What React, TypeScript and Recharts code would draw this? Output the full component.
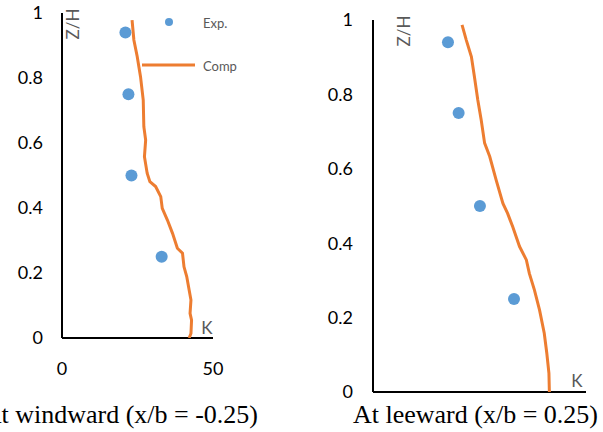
import { ScatterChart, Scatter, XAxis, YAxis } from 'recharts';

// windward (x/b = -0.25)
const windExpK = [21, 22, 23, 33];
const windExpZ = [0.94, 0.75, 0.5, 0.25];
const windCompK = [23.2, 23.8, 24.9, 26, 26.9, 27.1, 27.7, 27.3, 28.2, 29.1, 31, 32.7, 33.2, 34.9, 36.6, 38.2, 39.9, 40.4, 41.3, 42.1, 42.7, 42.4, 42.9, 42.7, 42.1];
const windCompZ = [0.978, 0.917, 0.866, 0.804, 0.732, 0.65, 0.609, 0.558, 0.507, 0.481, 0.466, 0.435, 0.399, 0.363, 0.322, 0.276, 0.261, 0.219, 0.189, 0.148, 0.117, 0.076, 0.055, 0.014, 0];

// leeward (x/b = 0.25)
const leeExpK = [17.6, 20.1, 25.1, 33.1];
const leeExpZ = [0.94, 0.75, 0.5, 0.25];
const leeCompK = [20.9, 21.9, 23.1, 23.8, 24.6, 25.4, 26.2, 27.4, 28.9, 30.5, 31.6, 32.8, 34.4, 36, 36.7, 37.9, 39.1, 40.2, 40.8, 41.3, 41.4];
const leeCompZ = [0.987, 0.946, 0.901, 0.848, 0.785, 0.731, 0.669, 0.633, 0.57, 0.507, 0.48, 0.444, 0.391, 0.355, 0.319, 0.274, 0.22, 0.158, 0.104, 0.05, 0];

const yTicks = [0, 0.2, 0.4, 0.6, 0.8, 1];
const xTicks = [0, 50];

const BLUE = '#5B9BD5';
const ORANGE = '#ED7D31';
const GRAY = '#595959';
const tickFont = { fill: '#000', fontSize: 18, fontFamily: 'Lato, sans-serif' };

const toPts = (k: number[], z: number[]) => k.map((v, i) => ({ k: v, z: z[i] }));

const noDot = () => null;

export default function App() {
  const windExp = toPts(windExpK, windExpZ);
  const windComp = toPts(windCompK, windCompZ);
  const leeExp = toPts(leeExpK, leeExpZ);
  const leeComp = toPts(leeCompK, leeCompZ);

  return (
    <div style={{ position: 'absolute', left: 0, top: 0, width: 603, height: 432, background: '#fff', overflow: 'hidden' }}>
      <div style={{ position: 'absolute', left: 0, top: 0 }}>
        <ScatterChart width={300} height={432} margin={{ top: 13, right: 87, bottom: 64, left: 0 }}>
          <XAxis type="number" dataKey="k" domain={[0, 50]} ticks={xTicks} allowDataOverflow
            axisLine={{ stroke: '#000', strokeWidth: 2 }} tickLine={false} tickSize={0} tickMargin={24}
            height={30} tick={tickFont} />
          <YAxis type="number" dataKey="z" domain={[0, 1]} ticks={yTicks} allowDataOverflow
            axisLine={{ stroke: '#000', strokeWidth: 2 }} tickLine={false} tickSize={0} tickMargin={19}
            width={62} tick={tickFont} />
          <Scatter data={windComp} line={{ stroke: ORANGE, strokeWidth: 3 }} shape={noDot} isAnimationActive={false} />
          <Scatter data={windExp} fill={BLUE} shape={(p: any) => <circle cx={p.cx} cy={p.cy} r={6} fill={BLUE} />} isAnimationActive={false} />
        </ScatterChart>
      </div>
      <div style={{ position: 'absolute', left: 300, top: 0 }}>
        <ScatterChart width={303} height={432} margin={{ top: 20, right: 17, bottom: 30, left: 0 }}>
          <XAxis type="number" dataKey="k" domain={[0, 50]} allowDataOverflow
            axisLine={{ stroke: '#000', strokeWidth: 2 }} tickLine={false} tick={false} height={10} />
          <YAxis type="number" dataKey="z" domain={[0, 1]} ticks={yTicks} allowDataOverflow
            axisLine={{ stroke: '#000', strokeWidth: 2 }} tickLine={false} tickSize={0} tickMargin={20}
            width={73} tick={tickFont} />
          <Scatter data={leeComp} line={{ stroke: ORANGE, strokeWidth: 3 }} shape={noDot} isAnimationActive={false} />
          <Scatter data={leeExp} fill={BLUE} shape={(p: any) => <circle cx={p.cx} cy={p.cy} r={6} fill={BLUE} />} isAnimationActive={false} />
        </ScatterChart>
      </div>
      <svg width={603} height={432} style={{ position: 'absolute', left: 0, top: 0, pointerEvents: 'none' }}>
        {/* legend */}
        <circle cx={169} cy={22} r={4} fill={BLUE} />
        <text x={203} y={23} fontSize={13} fill={GRAY} fontFamily="Lato, sans-serif" dominantBaseline="central">Exp.</text>
        <line x1={142} y1={65} x2={195} y2={65} stroke={ORANGE} strokeWidth={3} />
        <text x={203} y={66} fontSize={13} fill={GRAY} fontFamily="Lato, sans-serif" dominantBaseline="central">Comp</text>
        {/* axis names */}
        <text transform="translate(72,24) rotate(-90)" fontSize={17} fill={GRAY} fontFamily="Lato, sans-serif" textAnchor="middle" dominantBaseline="central">Z/H</text>
        <text transform="translate(403,31) rotate(-90)" fontSize={17} fill={GRAY} fontFamily="Lato, sans-serif" textAnchor="middle" dominantBaseline="central">Z/H</text>
        <text x={207} y={327} fontSize={17} fill={GRAY} fontFamily="Lato, sans-serif" textAnchor="middle" dominantBaseline="central">K</text>
        <text x={577} y={380} fontSize={17} fill={GRAY} fontFamily="Lato, sans-serif" textAnchor="middle" dominantBaseline="central">K</text>
        {/* captions (the left one is clipped at the edge, as in the source figure) */}
        <text x={258} y={423} fontSize={26} fill="#000" fontFamily="'Liberation Serif', serif" textAnchor="end">At windward (x/b = -0.25)</text>
        <text x={353} y={423} fontSize={26} fill="#000" fontFamily="'Liberation Serif', serif">At leeward (x/b = 0.25)</text>
      </svg>
    </div>
  );
}
